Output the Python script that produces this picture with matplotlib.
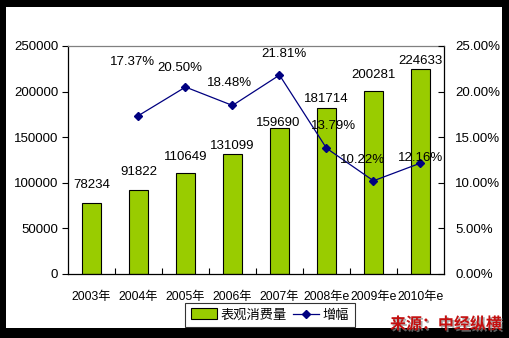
import matplotlib
matplotlib.use("Agg")
import matplotlib.pyplot as plt
import matplotlib.patheffects as pe
from matplotlib.patches import Rectangle
from matplotlib.lines import Line2D
from matplotlib.ticker import FuncFormatter

years = ["2003年", "2004年", "2005年", "2006年", "2007年", "2008年e", "2009年e", "2010年e"]
consumption = [78234, 91822, 110649, 131099, 159690, 181714, 200281, 224633]
growth_years = [1, 2, 3, 4, 5, 6, 7]
growth = [17.37, 20.50, 18.48, 21.81, 13.79, 10.22, 12.16]

# label offsets in pixels (dx, dy)
bar_lab_off = [(0, 18), (0, 18), (0, 16), (0, 8), (-1, 5), (0, 9), (0, 16), (0, 8)]
pct_lab_off = [(-6, 54), (-6, 19), (-3, 22), (4, 21), (7, 22), (-11, 21), (0, 5)]

BAR = "#99CC00"
NAVY = "#000080"
FONT = ["Liberation Sans", "Noto Sans CJK SC"]
plt.rcParams["font.family"] = FONT

fig = plt.figure(figsize=(5.1, 3.38), dpi=100, facecolor="black")
fig.patches.append(Rectangle((6 / 510, 10 / 338), 496 / 510, 321 / 338,
                             transform=fig.transFigure, facecolor="white",
                             edgecolor="none", zorder=-10))

ax = fig.add_axes([68 / 510, 64 / 338, 376 / 510, 228 / 338])
ax.set_facecolor("white")
x = list(range(len(years)))
ax.bar(x, consumption, width=0.42, color=BAR, edgecolor="black", linewidth=0.8, zorder=2)
ax.set_xlim(-0.5, len(years) - 0.5)
ax.set_ylim(0, 250000)
ax.set_yticks(range(0, 250001, 50000))
ax.tick_params(axis="y", direction="out", length=4, width=0.8, labelsize=9.5, pad=3)
ax.set_xticks([i - 0.5 for i in range(1, len(years))], minor=False)
ax.set_xticklabels([])
ax.set_xticks(x, minor=True)
ax.set_xticklabels(years, minor=True, fontsize=8.8)
ax.tick_params(axis="x", which="major", direction="in", length=4, width=0.8)
ax.tick_params(axis="x", which="minor", length=0, pad=12)
for s in ["left", "bottom", "right"]:
    ax.spines[s].set_color("black")
    ax.spines[s].set_linewidth(0.9)
ax.spines["top"].set_color("#808080")
ax.spines["top"].set_linewidth(0.9)

for i, v in enumerate(consumption):
    dx, dy = bar_lab_off[i]
    ax.annotate(str(v), (i, v), xytext=(dx * 0.72, dy * 0.72), textcoords="offset points",
                ha="center", va="center", fontsize=9.5, zorder=5)

ax2 = ax.twinx()
ax2.plot(growth_years, growth, color=NAVY, linewidth=0.9, marker="D", markersize=4,
         markerfacecolor=NAVY, markeredgecolor=NAVY, zorder=4)
ax2.set_ylim(0, 25)
ax2.set_yticks(range(0, 26, 5))
ax2.yaxis.set_major_formatter(FuncFormatter(lambda v, p: "%.2f%%" % v))
ax2.tick_params(axis="y", direction="in", length=4, width=0.8, labelsize=9.5, pad=8)
for s in ["left", "bottom", "right", "top"]:
    ax2.spines[s].set_visible(False)
for i, (xx, v) in enumerate(zip(growth_years, growth)):
    dx, dy = pct_lab_off[i]
    ax2.annotate("%.2f%%" % v, (xx, v), xytext=(dx * 0.72, dy * 0.72), textcoords="offset points",
                 ha="center", va="center", fontsize=9.5, zorder=6)

handles = [Rectangle((0, 0), 1, 1, facecolor=BAR, edgecolor="black", linewidth=0.8),
           Line2D([], [], color=NAVY, linewidth=0.9, marker="D", markersize=4)]
leg = fig.legend(handles, ["表观消费量", "增幅"], loc="center", bbox_to_anchor=(270 / 510, 1 - 315 / 338),
                 ncol=2, frameon=True, fancybox=False, fontsize=9.5, handlelength=2.0,
                 handleheight=0.9, handletextpad=0.3, columnspacing=0.4, borderpad=0.45,
                 borderaxespad=0)
leg.get_frame().set_edgecolor("black")
leg.get_frame().set_linewidth(0.8)

fig.text(446 / 510, 1 - 324 / 338, "来源：中经纵横", ha="center", va="center",
         fontsize=11.5, fontweight="bold", style="italic", color="#C41010",
         family=["Noto Sans CJK SC"],
         path_effects=[pe.SimplePatchShadow(offset=(1.2, -1.2), shadow_rgbFace="#888888", alpha=0.7),
                       pe.Normal()])

fig.savefig("out.png", dpi=100, facecolor=fig.get_facecolor())
